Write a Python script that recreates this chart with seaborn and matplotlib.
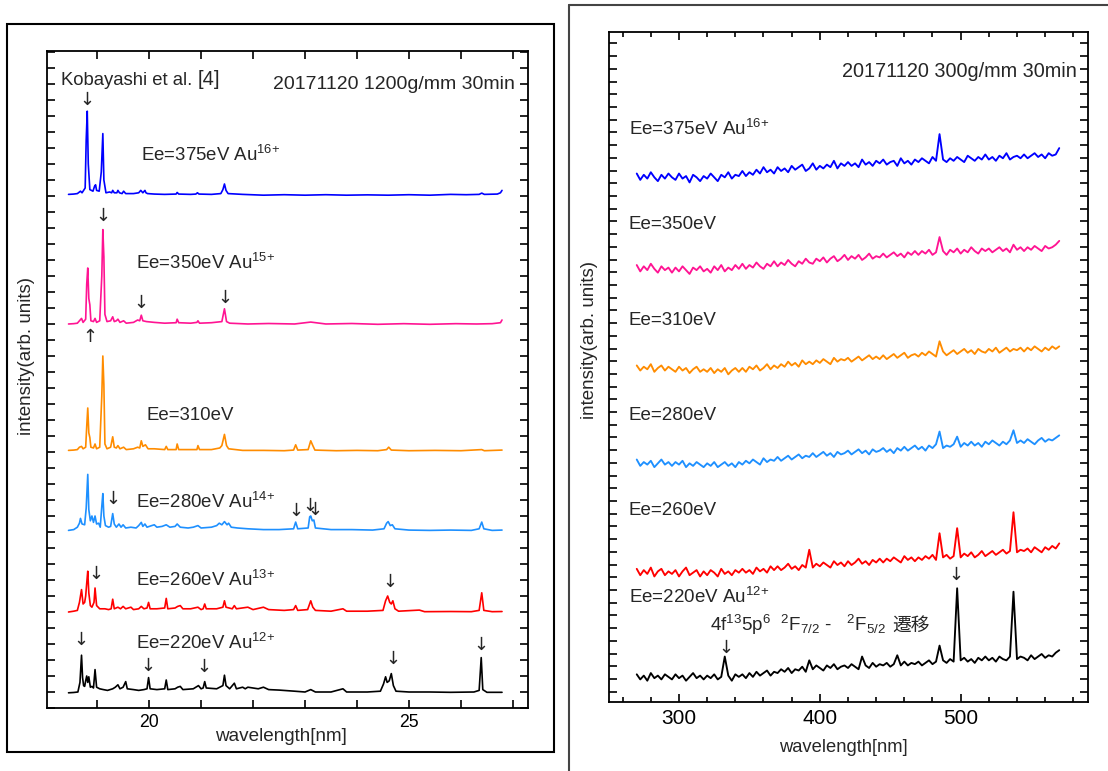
import numpy as np
import pandas as pd
import matplotlib
matplotlib.use("Agg")
import matplotlib.pyplot as plt
from matplotlib.patches import Rectangle
from matplotlib.lines import Line2D
from matplotlib.ticker import MultipleLocator, FixedLocator
import seaborn as sns

sns.set_theme(style="ticks")
plt.rcParams["font.family"] = ["Liberation Sans", "DejaVu Sans"]
plt.rcParams["mathtext.default"] = "regular"
plt.rcParams["axes.edgecolor"] = "black"
plt.rcParams["xtick.color"] = "black"
plt.rcParams["ytick.color"] = "black"

# ---------------- data: left panel (1200 g/mm, wavelength nm, offset intensity) -------------
E375_1200 = [(18.45,32.1),(18.55,32.12),(18.62,32.15),(18.66,32.25),(18.68,32.3),(18.71,32.2),(18.77,32.5),(18.79,35.5),(18.81,37.3),(18.83,34.0),
             (18.86,32.4),(18.92,32.3),(18.95,32.6),(18.97,32.7),(18.99,32.35),(19.04,32.3),(19.08,33.5),(19.11,35.9),(19.13,33.0),(19.17,32.2),
             (19.24,32.25),(19.28,32.2),(19.30,32.35),(19.33,32.2),(19.38,32.2),(19.40,32.35),(19.43,32.2),(19.48,32.15),(19.51,32.3),(19.55,32.15),
             (19.70,32.15),(19.80,32.2),(19.84,32.35),(19.88,32.2),(19.92,32.35),(19.94,32.2),(19.97,32.15),(20.10,32.12),(20.30,32.1),(20.52,32.12),
             (20.54,32.22),(20.57,32.12),(20.80,32.1),(20.90,32.12),(20.93,32.2),(20.96,32.12),(21.20,32.1),(21.38,32.15),(21.42,32.4),(21.45,32.75),
             (21.48,32.35),(21.52,32.15),(21.80,32.1),(22.20,32.05),(22.60,32.08),(23.00,32.05),(23.40,32.08),(23.80,32.05),(24.20,32.07),(24.60,32.05),
             (25.00,32.08),(25.40,32.05),(25.80,32.1),(26.10,32.08),(26.35,32.1),(26.40,32.18),(26.45,32.1),(26.70,32.12),(26.76,32.2),(26.79,32.35)]
E350_1200 = [(18.45,24.0),(18.55,24.02),(18.62,24.05),(18.66,24.2),(18.70,24.35),(18.73,24.1),(18.78,24.3),(18.80,26.5),(18.82,27.5),(18.84,25.6),
             (18.86,25.2),(18.88,24.2),(18.93,24.15),(18.96,24.35),(18.99,24.1),(19.05,24.2),(19.09,27.0),(19.11,29.9),(19.13,28.2),(19.15,24.6),
             (19.19,24.15),(19.26,24.2),(19.30,24.45),(19.33,24.15),(19.37,24.2),(19.40,24.3),(19.44,24.1),(19.51,24.2),(19.56,24.05),(19.70,24.1),
             (19.78,24.25),(19.82,24.2),(19.85,24.55),(19.88,24.2),(19.95,24.15),(20.10,24.1),(20.30,24.05),(20.52,24.08),(20.54,24.3),(20.57,24.08),
             (20.80,24.05),(20.92,24.1),(20.94,24.2),(20.97,24.05),(21.20,24.08),(21.40,24.15),(21.45,24.95),(21.49,24.15),(21.55,24.05),(21.90,24.0),
             (22.30,24.03),(22.80,24.0),(23.11,24.12),(23.40,24.0),(23.90,24.03),(24.40,23.98),(24.90,24.02),(25.40,23.98),(25.90,24.02),(26.30,24.0),
             (26.60,24.02),(26.76,24.08),(26.79,24.25)]
E310_1200 = [(18.45,16.1),(18.55,16.12),(18.62,16.15),(18.66,16.3),(18.70,16.35),(18.73,16.2),(18.78,16.3),(18.80,17.6),(18.82,18.75),(18.84,17.2),
             (18.86,16.9),(18.88,16.3),(18.93,16.25),(18.96,16.5),(18.99,16.2),(19.05,16.3),(19.09,19.5),(19.11,22.0),(19.13,20.2),(19.15,16.5),
             (19.19,16.2),(19.26,16.3),(19.30,16.95),(19.33,16.3),(19.37,16.25),(19.40,16.4),(19.44,16.2),(19.51,16.3),(19.56,16.15),(19.70,16.2),
             (19.78,16.3),(19.82,16.25),(19.85,16.7),(19.88,16.35),(19.93,16.45),(19.98,16.2),(20.10,16.2),(20.30,16.15),(20.33,16.35),(20.36,16.15),
             (20.52,16.15),(20.54,16.5),(20.57,16.15),(20.80,16.15),(20.92,16.15),(20.94,16.4),(20.97,16.15),(21.20,16.15),(21.36,16.25),(21.40,16.4),
             (21.45,17.1),(21.49,16.4),(21.53,16.2),(21.80,16.1),(22.20,16.1),(22.60,16.08),(22.78,16.12),(22.82,16.45),(22.86,16.12),(23.06,16.15),
             (23.11,16.7),(23.15,16.4),(23.19,16.12),(23.60,16.08),(24.00,16.1),(24.40,16.08),(24.57,16.15),(24.61,16.3),(24.66,16.12),(25.00,16.08),
             (25.50,16.1),(26.00,16.08),(26.40,16.15),(26.45,16.08),(26.79,16.12)]
E280_1200 = [(18.45,11.1),(18.55,11.15),(18.62,11.3),(18.66,11.55),(18.68,11.85),(18.71,11.5),(18.76,11.45),(18.79,12.5),(18.82,14.6),(18.84,12.4),
             (18.87,11.7),(18.90,12.0),(18.93,11.6),(18.96,12.0),(18.99,11.5),(19.03,11.55),(19.06,11.3),(19.09,12.6),(19.11,13.4),(19.13,12.0),
             (19.16,11.4),(19.22,11.3),(19.26,11.35),(19.30,12.15),(19.33,11.5),(19.37,11.3),(19.42,11.5),(19.46,11.3),(19.50,11.45),(19.55,11.25),
             (19.65,11.3),(19.75,11.25),(19.80,11.4),(19.85,11.6),(19.88,11.35),(19.92,11.5),(19.96,11.3),(20.05,11.4),(20.10,11.45),(20.15,11.3),
             (20.25,11.35),(20.33,11.45),(20.40,11.3),(20.50,11.35),(20.54,11.5),(20.60,11.3),(20.75,11.25),(20.85,11.3),(20.94,11.4),(21.00,11.25),
             (21.20,11.3),(21.30,11.4),(21.35,11.55),(21.40,11.45),(21.45,11.65),(21.50,11.45),(21.53,11.55),(21.58,11.3),(21.70,11.25),(21.90,11.2),
             (22.20,11.15),(22.50,11.15),(22.78,11.2),(22.82,11.62),(22.86,11.2),(23.06,11.25),(23.09,11.95),(23.11,12.0),(23.14,11.7),(23.17,11.75),
             (23.20,11.25),(23.50,11.15),(23.90,11.15),(24.30,11.12),(24.52,11.2),(24.57,11.55),(24.60,11.65),(24.64,11.4),(24.68,11.45),(24.73,11.2),
             (25.00,11.12),(25.40,11.1),(25.80,11.12),(26.20,11.1),(26.35,11.2),(26.40,11.62),(26.44,11.2),(26.60,11.1),(26.79,11.12)]
E260_1200 = [(18.45,6.0),(18.55,6.05),(18.62,6.1),(18.66,6.6),(18.70,7.4),(18.73,6.5),(18.76,6.6),(18.78,7.0),(18.80,7.8),(18.82,8.55),
             (18.84,7.2),(18.87,6.4),(18.90,6.3),(18.94,6.6),(18.96,7.5),(18.99,6.4),(19.05,6.2),(19.15,6.2),(19.22,6.15),(19.27,6.2),
             (19.30,6.8),(19.33,6.2),(19.40,6.3),(19.45,6.2),(19.50,6.35),(19.55,6.2),(19.65,6.3),(19.70,6.15),(19.80,6.2),(19.85,6.35),
             (19.90,6.2),(19.96,6.25),(19.99,6.6),(20.02,6.2),(20.15,6.2),(20.30,6.25),(20.33,6.85),(20.36,6.2),(20.50,6.25),(20.55,6.35),
             (20.60,6.4),(20.65,6.2),(20.80,6.2),(20.94,6.3),(21.00,6.15),(21.04,6.2),(21.07,6.5),(21.10,6.2),(21.30,6.2),(21.42,6.3),
             (21.45,6.7),(21.48,6.3),(21.60,6.2),(21.64,6.4),(21.68,6.2),(21.90,6.3),(22.00,6.15),(22.20,6.3),(22.30,6.15),(22.60,6.1),
             (22.78,6.15),(22.82,6.4),(22.86,6.1),(23.05,6.15),(23.11,6.7),(23.15,6.3),(23.20,6.1),(23.50,6.05),(23.73,6.2),(23.80,6.05),
             (24.20,6.05),(24.50,6.1),(24.55,6.7),(24.59,7.0),(24.63,6.6),(24.66,6.5),(24.69,6.7),(24.73,6.2),(24.80,6.05),(25.20,6.12),
             (25.30,6.02),(25.80,6.03),(26.20,6.02),(26.35,6.1),(26.40,7.2),(26.44,6.1),(26.60,6.02),(26.79,6.03)]
E220_1200 = [(18.45,0.95),(18.55,0.97),(18.63,1.0),(18.67,1.6),(18.70,3.3),(18.72,1.9),(18.74,1.4),(18.76,1.35),(18.78,1.7),(18.80,2.0),
             (18.82,1.6),(18.84,1.95),(18.87,1.3),(18.90,1.35),(18.93,1.25),(18.96,2.4),(18.99,1.3),(19.05,1.2),(19.12,1.15),(19.20,1.1),
             (19.30,1.2),(19.35,1.3),(19.40,1.45),(19.44,1.2),(19.50,1.3),(19.55,1.65),(19.58,1.2),(19.70,1.15),(19.80,1.1),(19.90,1.15),
             (19.96,1.2),(19.99,1.9),(20.02,1.2),(20.15,1.15),(20.30,1.2),(20.33,1.75),(20.36,1.15),(20.50,1.2),(20.55,1.3),(20.60,1.35),
             (20.65,1.15),(20.85,1.2),(20.95,1.4),(21.00,1.2),(21.04,1.25),(21.07,1.65),(21.10,1.25),(21.30,1.2),(21.42,1.4),(21.45,2.05),
             (21.48,1.4),(21.55,1.2),(21.64,1.55),(21.68,1.2),(21.80,1.3),(21.85,1.2),(21.90,1.3),(22.00,1.25),(22.10,1.2),(22.20,1.3),
             (22.30,1.15),(22.50,1.12),(22.80,1.05),(23.00,1.0),(23.11,1.15),(23.20,1.0),(23.50,1.0),(23.73,1.2),(23.80,1.0),(24.20,1.0),
             (24.45,1.05),(24.51,1.5),(24.55,1.95),(24.58,1.6),(24.62,1.7),(24.66,2.15),(24.70,1.4),(24.75,1.05),(25.00,1.0),(25.40,1.0),
             (25.80,0.98),(26.25,1.0),(26.35,1.1),(26.39,3.15),(26.42,1.15),(26.50,0.98),(26.79,0.98)]

LEFT_SERIES = ["375eV", "350eV", "310eV", "280eV", "260eV", "220eV"]
LEFT_DATA = [E375_1200, E350_1200, E310_1200, E280_1200, E260_1200, E220_1200]

# ---------------- data: right panel (300 g/mm) -------------
WL_300 = np.arange(270.0, 572.0, 2.5)   # 121 sample wavelengths, nm
E375_300 = [41.6,41.1,41.5,41.2,41.7,41.3,41.0,41.5,41.2,41.6, 41.3,41.1,41.6,41.2,41.4,40.9,41.5,41.3,41.0,41.4,
            41.2,41.6,41.3,41.0,41.5,41.3,41.7,41.2,41.5,41.4, 41.8,41.4,41.7,41.5,41.9,41.6,42.1,41.7,41.9,41.6,
            42.1,41.8,42.0,41.7,42.2,41.9,42.1,42.3,41.8,42.0, 42.4,41.9,42.2,42.0,42.3,42.1,42.6,42.0,42.4,42.2,
            42.5,42.2,42.4,42.1,42.7,42.3,42.5,42.2,42.6,42.4, 42.7,42.3,42.5,42.6,42.2,42.8,42.4,42.6,42.3,42.7,
            42.5,42.8,42.6,42.4,42.9,42.6,44.7,42.7,42.5,42.8, 42.6,42.9,42.7,42.5,43.0,42.8,42.6,42.9,42.7,43.1,
            42.7,42.9,42.6,43.0,42.8,43.2,42.7,42.9,43.0,42.8, 43.1,42.8,43.0,43.2,42.9,43.1,42.8,43.2,43.0,43.1,43.6]
E350_300 = [34.4,33.9,34.3,34.0,34.5,34.1,33.8,34.3,34.0,34.2, 33.8,34.2,33.9,34.3,34.0,33.7,34.2,34.0,34.3,33.9,
            34.1,33.8,34.3,34.0,34.4,33.9,34.2,34.0,34.4,34.1, 34.5,34.1,34.4,34.2,34.6,34.3,34.1,34.5,34.3,34.7,
            34.3,34.6,34.4,34.8,34.5,34.3,34.7,34.5,34.9,34.6, 34.5,34.9,34.7,35.0,34.6,34.9,35.1,34.7,34.9,35.2,
            34.8,35.1,34.9,35.2,34.8,35.0,35.3,34.9,35.1,35.0, 35.3,35.0,35.2,35.4,35.1,35.3,35.0,35.4,35.2,35.5,
            35.2,35.5,35.3,35.6,35.2,35.4,36.6,35.5,35.2,35.6, 35.4,35.7,35.3,35.6,35.4,35.8,35.5,35.3,35.7,35.5,
            35.7,35.4,35.6,35.8,35.5,35.7,35.4,36.0,35.6,35.8, 35.5,35.8,35.6,35.9,35.7,35.5,35.9,35.7,35.8,36.0,36.3]
E310_300 = [26.5,26.1,26.4,26.2,26.6,26.0,26.3,26.5,26.1,26.4, 26.2,26.0,26.4,26.1,26.3,25.9,26.2,26.4,26.0,26.2,
            26.0,26.3,25.9,26.2,26.0,26.3,25.8,26.1,26.3,26.0, 26.3,26.0,26.4,26.2,26.5,26.1,26.3,26.6,26.2,26.5,
            26.3,26.6,26.4,26.8,26.5,26.7,26.4,26.9,26.6,26.8, 26.6,26.9,26.7,27.0,26.8,26.6,27.1,26.8,27.0,26.9,
            27.1,26.8,27.0,27.2,26.9,27.1,27.3,27.0,27.2,27.0, 27.3,27.0,27.2,27.4,27.1,27.3,27.5,27.1,27.3,27.4,
            27.2,27.5,27.3,27.6,27.4,27.2,28.4,27.6,27.3,27.5, 27.7,27.4,27.6,27.8,27.5,27.7,27.4,27.8,27.6,27.5,
            27.8,27.6,27.9,27.5,27.7,27.9,27.6,27.8,27.7,27.9, 27.6,27.9,27.7,28.0,27.8,27.6,27.9,27.7,28.0,27.8,28.0]
E280_300 = [19.1,18.6,18.9,18.7,19.0,18.5,18.8,19.1,18.7,18.9, 18.6,18.9,18.7,19.0,18.5,18.8,18.6,18.9,18.7,18.5,
            18.8,18.6,18.9,18.5,18.7,18.9,18.6,18.8,18.5,18.9, 18.7,19.0,18.8,19.1,18.9,18.7,19.2,18.9,19.1,19.0,
            19.3,19.0,19.2,19.4,19.1,19.3,19.5,19.2,19.4,19.3, 19.6,19.3,19.5,19.7,19.4,19.6,19.3,19.7,19.5,19.6,
            19.8,19.5,19.7,19.9,19.6,19.8,19.5,19.9,19.7,19.8, 20.0,19.7,19.9,19.6,20.0,19.8,20.1,19.8,20.0,20.2,
            19.9,20.1,19.8,20.2,20.0,20.3,21.3,20.0,20.2,20.1, 20.3,20.9,20.1,20.4,20.2,20.5,20.2,20.4,20.1,20.5,
            20.3,20.6,20.4,20.2,20.5,20.3,20.6,21.4,20.4,20.6, 20.4,20.7,20.5,20.3,20.6,20.8,20.5,20.7,20.6,20.8,21.0]
E260_300 = [10.5,10.0,10.4,10.1,10.6,9.9,10.3,10.5,10.0,10.3, 10.1,10.4,9.9,10.3,10.6,10.0,10.2,10.4,9.9,10.3,
            10.0,10.4,10.2,9.9,10.5,10.1,10.3,10.0,10.4,10.2, 10.5,10.2,10.4,10.1,10.6,10.3,10.5,10.2,10.7,10.4,
            10.7,10.4,10.6,10.9,10.5,10.7,10.4,10.8,10.6,12.0, 10.6,10.9,10.7,11.0,10.8,10.6,11.1,10.8,11.0,10.7,
            11.1,10.8,11.0,11.3,10.9,11.1,10.8,11.2,11.0,11.3, 11.0,11.3,11.1,11.4,11.2,11.0,11.5,11.2,11.4,11.1,
            11.4,11.2,11.5,11.3,11.6,11.2,13.3,11.4,11.6,11.3, 11.5,13.7,11.4,11.7,11.5,11.8,11.4,11.6,11.9,11.5,
            11.7,11.9,11.6,11.8,12.0,11.7,11.9,14.95,11.8,12.0, 11.9,12.1,11.8,12.2,12.0,11.8,12.2,12.0,12.3,12.1,12.5]
E220_300 = [2.2,1.8,2.1,1.7,2.3,1.9,2.1,1.8,2.2,2.0, 1.8,2.2,1.9,2.1,1.7,2.0,2.3,1.9,2.1,1.8,
            2.1,1.9,2.2,1.8,2.0,3.6,2.1,1.7,2.2,2.0, 2.2,1.9,2.3,2.0,2.4,2.1,2.3,2.5,2.1,2.4,
            2.3,2.6,2.4,2.7,2.3,2.6,2.5,2.8,2.4,3.3, 2.6,2.9,2.7,2.5,2.9,2.7,3.0,2.6,2.8,2.9,
            2.7,3.0,2.8,2.6,3.6,2.9,2.7,3.1,2.8,3.0, 2.9,3.1,2.8,3.0,3.7,2.9,3.2,2.9,3.1,3.0,
            3.2,2.9,3.1,3.3,3.0,3.2,4.46,3.3,3.1,3.4, 3.2,8.97,3.3,3.5,3.2,3.4,3.1,3.5,3.3,3.6,
            3.3,3.5,3.2,3.6,3.4,3.3,3.6,8.7,3.4,3.6, 3.5,3.3,3.7,3.4,3.6,3.8,3.5,3.7,3.6,3.9,4.1]

RIGHT_SERIES = ["375eV", "350eV", "310eV", "280eV", "260eV", "220eV"]
RIGHT_DATA = [E375_300, E350_300, E310_300, E280_300, E260_300, E220_300]

COLORS = ["#0000FF", "#FF1493", "#FF8C00", "#1E90FF", "#FF0000", "#000000"]

# ---------------- frames ----------------
df_left = pd.concat([pd.DataFrame({"wl": [p[0] for p in d], "I": [p[1] for p in d], "s": name})
                     for name, d in zip(LEFT_SERIES, LEFT_DATA)], ignore_index=True)
df_right = pd.concat([pd.DataFrame({"wl": WL_300, "I": vals, "s": name})
                      for name, vals in zip(RIGHT_SERIES, RIGHT_DATA)], ignore_index=True)

fig = plt.figure(figsize=(11.08, 7.71), dpi=100)
W, H = 1108.0, 771.0

def fbox(x0, y0, x1, y1):
    return [x0 / W, 1 - y1 / H, (x1 - x0) / W, (y1 - y0) / H]

axL = fig.add_axes(fbox(46.7, 50.7, 528.0, 708.0))
axR = fig.add_axes(fbox(609.0, 32.3, 1087.7, 702.3))

sns.lineplot(data=df_left, x="wl", y="I", hue="s", palette=COLORS, hue_order=LEFT_SERIES,
             estimator=None, sort=False, legend=False, lw=1.2, ax=axL)
sns.lineplot(data=df_right, x="wl", y="I", hue="s", palette=COLORS, hue_order=RIGHT_SERIES,
             estimator=None, sort=False, legend=False, lw=1.35, ax=axR)

# ---------------- axes styling ----------------
for ax in (axL, axR):
    for sp in ax.spines.values():
        sp.set_visible(True)
        sp.set_linewidth(1.3)
        sp.set_color("black")
    ax.tick_params(which="both", direction="in", top=True, right=True, width=1.2, length=6)
    ax.tick_params(axis="y", labelleft=False)
    ax.set_xlabel("")
    ax.set_ylabel("")

axL.set_xlim(18.03, 27.29)
axL.set_ylim(0, 41.08)
axL.xaxis.set_major_locator(FixedLocator([20, 25]))
axL.xaxis.set_minor_locator(MultipleLocator(1))
axL.yaxis.set_major_locator(FixedLocator(np.arange(0, 42)))
axL.tick_params(axis="x", labelsize=12.7, pad=4)

axR.set_xlim(250.3, 590.2)
axR.set_ylim(0, 52.71)
axR.xaxis.set_major_locator(FixedLocator([300, 400, 500]))
axR.xaxis.set_minor_locator(MultipleLocator(20))
axR.tick_params(axis="x", which="minor", length=3.5)
axR.yaxis.set_major_locator(FixedLocator(0.834 + np.arange(0, 52)))
axR.tick_params(axis="x", labelsize=15, pad=5)

axL.text(0.486, -0.043, "wavelength[nm]", transform=axL.transAxes, ha="center", va="center", fontsize=13.6)
axR.text(0.49, -0.068, "wavelength[nm]", transform=axR.transAxes, ha="center", va="center", fontsize=13.2)
axL.text(-0.043, 0.536, "intensity(arb. units)", transform=axL.transAxes, ha="center", va="center",
         rotation=90, fontsize=13.5)
axR.text(-0.040, 0.541, "intensity(arb. units)", transform=axR.transAxes, ha="center", va="center",
         rotation=90, fontsize=13.5)

# ---------------- left annotations ----------------
FS_L = 13.4
axL.text(18.30, 38.94, "Kobayashi et al.", fontsize=13.3, va="baseline")
axL.text(20.93, 38.94, "[4]", fontsize=14.5, va="baseline")
axL.text(27.03, 38.69, "20171120 1200g/mm 30min", fontsize=14, va="baseline", ha="right")
axL.text(19.85, 34.19, "Ee=375eV Au$^{16{+}}$", fontsize=FS_L, va="baseline")
axL.text(19.75, 27.44, "Ee=350eV Au$^{15{+}}$", fontsize=FS_L, va="baseline")
axL.text(19.95, 18.0, "Ee=310eV", fontsize=FS_L, va="baseline")
axL.text(19.75, 12.52, "Ee=280eV Au$^{14{+}}$", fontsize=FS_L, va="baseline")
axL.text(19.75, 7.62, "Ee=260eV Au$^{13{+}}$", fontsize=FS_L, va="baseline")
axL.text(19.75, 3.69, "Ee=220eV Au$^{12{+}}$", fontsize=FS_L, va="baseline")

ARROWS_L = [(18.81, 38.0, "↓"), (19.11, 30.75, "↓"), (19.85, 25.3, "↓"), (21.45, 25.6, "↓"),
            (18.87, 23.2, "↑"), (19.30, 13.05, "↓"), (22.82, 12.33, "↓"), (23.09, 12.65, "↓"),
            (23.20, 12.4, "↓"), (18.98, 8.4, "↓"), (24.64, 7.9, "↓"), (18.68, 4.25, "↓"),
            (19.98, 2.6, "↓"), (21.06, 2.54, "↓"), (24.70, 3.04, "↓"), (26.39, 3.94, "↓")]
for x, y, s in ARROWS_L:
    axL.text(x, y, s, ha="center", va="center", fontsize=13, family="DejaVu Sans")

# ---------------- right annotations ----------------
FS_R = 13.5
axR.text(582.7, 49.2, "20171120 300g/mm 30min", fontsize=14.3, va="baseline", ha="right")
axR.text(264.5, 44.63, "Ee=375eV Au$^{16{+}}$", fontsize=FS_R, va="baseline")
axR.text(264.5, 37.2, "Ee=350eV", fontsize=FS_R, va="baseline")
axR.text(264.5, 29.72, "Ee=310eV", fontsize=FS_R, va="baseline")
axR.text(264.5, 22.17, "Ee=280eV", fontsize=FS_R, va="baseline")
axR.text(264.5, 14.7, "Ee=260eV", fontsize=FS_R, va="baseline")
axR.text(264.5, 7.79, "Ee=220eV Au$^{12{+}}$", fontsize=FS_R, va="baseline")
axR.text(321.8, 5.61, "4f$^{13}$5p$^{6}$  $^{2}$F$_{7/2}$ -   $^{2}$F$_{5/2}$", fontsize=13.6, va="baseline")
axR.text(451.5, 5.61, "遷移", fontsize=13.5, va="baseline", family=["Noto Sans CJK JP", "DejaVu Sans"])
for x, y in [(333.0, 4.27), (496.5, 10.04)]:
    axR.text(x, y, "↓", ha="center", va="center", fontsize=13, family="DejaVu Sans")

# ---------------- outer frames ----------------
fig.add_artist(Rectangle((7.3 / W, 1 - 752 / H), (553.7 - 7.3) / W, (752 - 24.3) / H,
                         transform=fig.transFigure, fill=False, lw=1.5, ec="black"))
fig.add_artist(Line2D([569 / W, 569 / W], [0, 1 - 4.7 / H], transform=fig.transFigure, lw=1.5, color="#444444"))
fig.add_artist(Line2D([569 / W, 1.0], [1 - 4.7 / H, 1 - 4.7 / H], transform=fig.transFigure, lw=1.5, color="#444444"))

fig.savefig("out.png", dpi=100)
